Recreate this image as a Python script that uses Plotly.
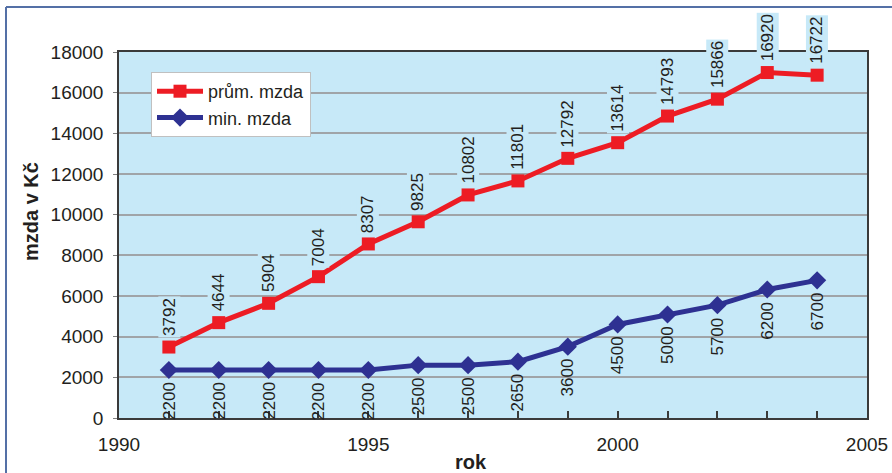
import plotly.graph_objects as go

years = list(range(1991, 2005))
prum_values = [3490, 4690, 5640, 6950, 8560, 9650, 10970, 11660, 12770, 13540, 14850, 15680, 16990, 16860]
prum_labels = ["3792", "4644", "5904", "7004", "8307", "9825", "10802", "11801", "12792",
               "13614", "14793", "15866", "16920", "16722"]
min_values = [2360, 2360, 2360, 2360, 2360, 2600, 2600, 2770, 3510, 4600, 5090, 5550, 6320, 6770]
min_labels = ["2200", "2200", "2200", "2200", "2200", "2500", "2500", "2650", "3600",
              "4500", "5000", "5700", "6200", "6700"]
x_ticks = [1990, 1995, 2000, 2005]
y_ticks = list(range(0, 18001, 2000))

RED = "#ed1c24"
BLUE = "#2e3192"
BG = "#c7e9f8"
TXT = "#231f20"
FONT = "Liberation Sans, Arial, sans-serif"

fig = go.Figure()
fig.add_trace(go.Scatter(x=years, y=prum_values, mode="lines+markers", name="prům. mzda",
                         line=dict(color=RED, width=5),
                         marker=dict(symbol="square", size=13, color=RED)))
fig.add_trace(go.Scatter(x=years, y=min_values, mode="lines+markers", name="min. mzda",
                         line=dict(color=BLUE, width=5),
                         marker=dict(symbol="diamond", size=14, color=BLUE)))

annotations = []
for x, y, t in zip(years, prum_values, prum_labels):
    annotations.append(dict(x=x, y=y, text=t, textangle=-90, showarrow=False,
                            xanchor="center", yanchor="bottom", yshift=9,
                            bgcolor=BG, borderpad=1,
                            font=dict(family=FONT, size=17, color=TXT)))
for x, y, t in zip(years, min_values, min_labels):
    annotations.append(dict(x=x, y=y, text=t, textangle=-90, showarrow=False,
                            xanchor="center", yanchor="top", yshift=-10,
                            font=dict(family=FONT, size=17, color=TXT)))
annotations.append(dict(xref="paper", yref="paper", x=(471 - 119) / 748, y=-(462 - 418) / 366,
                        text="<b>rok</b>", showarrow=False, xanchor="center", yanchor="middle",
                        font=dict(family=FONT, size=20, color=TXT)))
annotations.append(dict(xref="paper", yref="paper", x=(31 - 119) / 748, y=(418 - 212) / 366,
                        text="<b>mzda v Kč</b>", textangle=-90, showarrow=False,
                        xanchor="center", yanchor="middle",
                        font=dict(family=FONT, size=20, color=TXT)))

shapes = [
    dict(type="line", xref="paper", yref="paper", x0=(6 - 119) / 748, x1=1.2,
         y0=(418 - 7) / 366, y1=(418 - 7) / 366, line=dict(color="#5470a6", width=2)),
    dict(type="line", xref="paper", yref="paper", x0=(6 - 119) / 748, x1=(6 - 119) / 748,
         y0=-0.3, y1=(418 - 7) / 366, line=dict(color="#5470a6", width=2)),
]

fig.update_layout(
    width=892, height=473,
    margin=dict(l=119, r=25, t=52, b=55, autoexpand=False),
    paper_bgcolor="white", plot_bgcolor=BG,
    font=dict(family=FONT, color=TXT),
    showlegend=True,
    legend=dict(x=(151 - 119) / 748, y=(418 - 72) / 366, xanchor="left", yanchor="top",
                bgcolor="white", bordercolor="#c0c0c0", borderwidth=1, itemwidth=46,
                font=dict(family=FONT, size=18, color=TXT), tracegroupgap=0),
    annotations=annotations,
    shapes=shapes,
    xaxis=dict(range=[1990, 2005], tickvals=x_ticks, ticks="inside", ticklen=7,
               tickcolor="#3a3a3a", tickwidth=1.5, showgrid=False, zeroline=False,
               showline=True, linecolor="#3a3a3a", linewidth=1.5, mirror=True, automargin=False,
               tickfont=dict(family=FONT, size=19, color=TXT), ticklabelstandoff=8,
               minor=dict(dtick=1, tick0=1990, ticks="inside", ticklen=7,
                          tickcolor="#3a3a3a", tickwidth=1.5, showgrid=False)),
    yaxis=dict(range=[0, 18000], tickvals=y_ticks, tickformat="d", ticks="outside", ticklen=4,
               tickcolor="#808080", showgrid=True, gridcolor="#a0a4a8", gridwidth=1.5,
               zeroline=False, showline=True, linecolor="#3a3a3a", linewidth=1.5, mirror=True,
               automargin=False,
               tickfont=dict(family=FONT, size=19, color=TXT), ticklabelstandoff=6),
)

fig.write_html("out.html", config={"displayModeBar": False},
               post_script="document.body.style.margin='0';document.body.style.overflow='hidden';")
